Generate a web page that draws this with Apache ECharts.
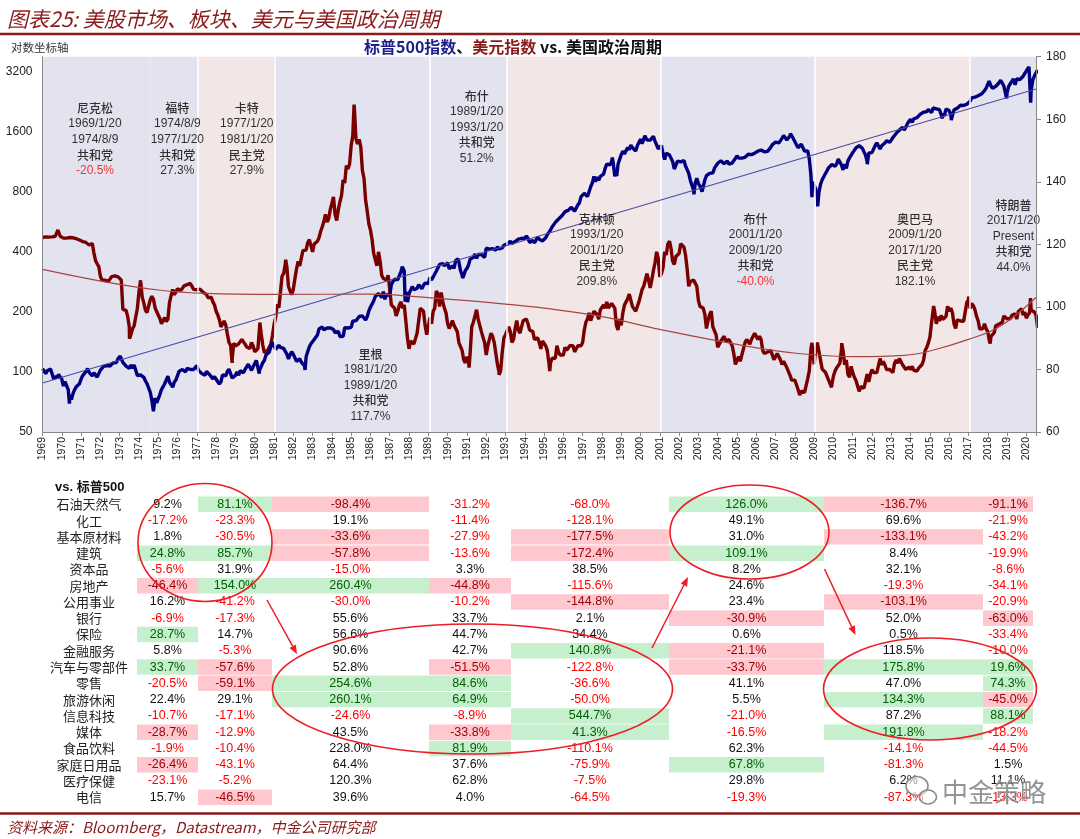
<!DOCTYPE html>
<html><head><meta charset="utf-8">
<script src="https://cdn.jsdelivr.net/npm/echarts@6/dist/echarts.min.js"></script>
<style>html,body{margin:0;padding:0;background:#fff}#c{width:1080px;height:839px}</style>
</head><body><div id="c"></div><script>
// ---------------- DATA ----------------
// S&P 500 month-end closes, Jan 1969 .. Jul 2020
const spxMonthly = [
103.0,98.1,101.5,103.7,103.5,97.7,91.8,95.5,93.1,97.2,94.5,92.1,
85.0,89.5,89.6,81.5,76.6,72.7,78.1,81.5,84.2,83.3,87.2,92.2,
95.9,96.8,100.3,103.9,99.6,99.7,95.6,99.0,98.3,94.2,94.0,102.1,
103.9,106.6,107.2,107.7,109.5,107.1,107.4,111.1,110.6,111.6,116.7,118.1,
116.0,111.7,111.5,107.0,105.0,104.3,108.2,104.3,108.4,108.3,96.0,97.6,
96.6,96.2,94.0,90.3,87.3,86.0,79.3,72.2,63.5,73.9,70.0,68.6,
77.0,81.6,83.4,87.3,91.2,95.2,88.8,86.9,83.9,89.0,91.2,90.2,
100.9,99.7,102.8,101.6,100.2,104.3,103.4,102.9,105.2,102.9,102.1,107.5,
102.0,99.8,98.4,98.4,96.1,100.5,98.9,96.8,96.5,92.3,94.8,95.1,
89.3,87.0,89.2,96.8,97.2,95.5,100.7,103.3,102.5,93.2,94.7,96.1,
99.9,96.3,101.6,101.8,99.1,102.9,103.8,109.3,109.3,101.8,106.2,107.9,
114.2,113.7,102.1,106.3,111.2,114.2,121.7,122.4,125.5,127.5,140.5,135.8,
129.6,131.3,136.0,132.8,132.6,131.2,130.9,122.8,116.2,121.9,126.4,122.6,
120.4,113.1,112.0,116.4,111.9,109.6,107.1,119.5,120.4,133.7,138.5,140.6,
145.3,148.1,153.0,164.4,162.4,168.1,162.6,164.4,166.1,163.6,166.4,164.9,
163.4,157.1,159.2,160.1,150.6,153.2,150.7,166.7,166.1,166.1,163.6,167.2,
179.6,181.2,180.7,179.8,189.6,191.9,190.9,188.6,182.1,189.8,202.2,211.3,
211.8,226.9,238.9,235.5,247.4,250.8,236.1,252.9,231.3,244.0,249.2,242.2,
274.1,284.2,291.7,288.4,290.1,304.0,318.7,329.8,321.8,251.8,230.3,247.1,
257.1,267.8,258.9,261.3,262.2,273.5,272.0,261.5,271.9,279.0,273.7,277.7,
297.5,288.9,294.9,309.6,320.5,318.0,346.1,351.5,349.2,340.4,346.0,353.4,
329.1,331.9,339.9,330.8,361.2,358.0,356.2,322.6,306.1,304.0,322.2,330.2,
343.9,367.1,375.2,375.4,389.8,371.2,387.8,395.4,387.9,392.5,375.2,417.1,
408.8,412.7,403.7,415.0,415.4,408.1,424.2,414.0,417.8,418.7,431.4,435.7,
438.8,443.4,451.7,440.2,450.2,450.5,448.1,463.6,458.9,467.8,461.8,466.5,
481.6,467.1,445.8,450.9,456.5,444.3,458.3,475.5,462.7,472.4,453.7,459.3,
470.4,487.4,500.7,514.7,533.4,544.8,562.1,561.9,584.4,581.5,605.4,615.9,
636.0,640.4,645.5,654.2,669.1,670.6,640.0,652.0,687.3,705.3,757.0,740.7,
786.2,790.8,757.1,801.3,848.3,885.1,954.3,899.5,947.3,914.6,955.4,970.4,
980.3,1049.3,1101.8,1111.8,1090.8,1133.8,1120.7,957.3,1017.0,1098.7,1163.6,1229.2,
1279.6,1238.3,1286.4,1335.2,1301.8,1372.7,1328.7,1320.4,1282.7,1362.9,1388.9,1469.3,
1394.5,1366.4,1498.6,1452.4,1420.6,1454.6,1430.8,1517.7,1436.5,1429.4,1315.0,1320.3,
1366.0,1239.9,1160.3,1249.5,1255.8,1224.4,1211.2,1133.6,1040.9,1059.8,1139.5,1148.1,
1130.2,1106.7,1147.4,1076.9,1067.1,989.8,911.6,916.1,815.3,885.8,936.3,879.8,
855.7,841.2,848.2,916.9,963.6,974.5,990.3,1008.0,996.0,1050.7,1058.2,1111.9,
1131.1,1144.9,1126.2,1107.3,1120.7,1140.8,1101.7,1104.2,1114.6,1130.2,1173.8,1211.9,
1181.3,1203.6,1180.6,1156.9,1191.5,1191.3,1234.2,1220.3,1228.8,1207.0,1249.5,1248.3,
1280.1,1280.7,1294.8,1310.6,1270.1,1270.2,1276.7,1303.8,1335.9,1377.9,1400.6,1418.3,
1438.2,1406.8,1420.9,1482.4,1530.6,1503.4,1455.3,1474.0,1526.8,1549.4,1481.1,1468.4,
1378.6,1330.6,1322.7,1385.6,1400.4,1280.0,1267.4,1282.8,1166.4,968.8,896.2,903.3,
825.9,735.1,797.9,872.8,919.1,919.3,987.5,1020.6,1057.1,1036.2,1095.6,1115.1,
1073.9,1104.5,1169.4,1186.7,1089.4,1030.7,1101.6,1049.3,1141.2,1183.3,1180.6,1257.6,
1286.1,1327.2,1325.8,1363.6,1345.2,1320.6,1292.3,1218.9,1131.4,1253.3,1247.0,1257.6,
1312.4,1365.7,1408.5,1397.9,1310.3,1362.2,1379.3,1406.6,1440.7,1412.2,1416.2,1426.2,
1498.1,1514.7,1569.2,1597.6,1630.7,1606.3,1685.7,1633.0,1681.6,1756.5,1805.8,1848.4,
1782.6,1859.5,1872.3,1884.0,1923.6,1960.2,1930.7,2003.4,1972.3,2018.1,2067.6,2058.9,
1995.0,2104.5,2067.9,2085.5,2107.4,2063.1,2103.8,1972.2,1920.0,2079.4,2080.4,2043.9,
1940.2,1932.2,2059.7,2065.3,2097.0,2098.9,2173.6,2171.0,2168.3,2126.2,2198.8,2238.8,
2278.9,2363.6,2362.7,2384.2,2411.8,2423.4,2470.3,2471.7,2519.4,2575.3,2647.6,2673.6,
2823.8,2713.8,2640.9,2648.1,2705.3,2718.4,2816.3,2901.5,2914.0,2711.7,2760.2,2506.9,
2704.1,2784.5,2834.4,2945.8,2752.1,2941.8,2980.4,2926.5,2976.7,3037.6,3141.0,3230.8,
3225.5,2954.2,2584.6,2912.4,3044.3,3100.3,3271.1
];
const spxExtremes = [
['1969/1/2',103.9],['1970/5/26',69.3],['1973/1/11',120.2],['1974/10/3',62.3],['1980/3/27',98.2],
['1980/11/28',140.5],['1982/8/12',102.4],['1987/8/25',336.8],['1987/10/19',224.8],['1987/12/4',223.9],
['1990/7/16',369.0],['1990/10/11',295.5],['1998/7/17',1186.8],['1998/10/8',959.4],['2000/3/24',1527.5],
['2002/10/9',776.8],['2003/3/11',800.7],['2007/10/9',1565.2],['2008/11/20',752.4],['2009/3/9',676.5],
['2011/10/3',1099.2],['2015/8/25',1867.6],['2016/2/11',1829.1],['2018/1/26',2872.9],['2018/12/24',2351.1],
['2020/2/19',3386.2],['2020/3/23',2237.4]
];
// US dollar index month-end, Jan 1969 .. Jul 2020
const dxyMonthly = [
122.3,122.4,122.2,122.3,122.5,122.4,122.5,122.6,123.0,124.0,122.6,122.4,
122.0,121.9,122.0,122.2,122.2,122.3,122.1,121.9,121.8,121.7,121.4,121.1,
120.9,120.6,120.6,120.4,119.8,120.1,120.3,117.2,114.8,113.8,112.9,109.8,
108.6,108.3,108.5,108.6,108.2,108.9,109.7,109.6,109.9,109.7,109.6,109.9,
108.6,99.2,98.7,98.9,96.9,93.6,91.2,93.0,94.0,94.6,99.5,104.8,
108.5,103.2,101.3,99.0,98.2,100.2,102.2,103.4,102.5,99.8,98.5,98.6,
96.3,94.6,94.2,96.6,95.3,96.1,101.4,103.6,105.6,103.9,104.8,105.8,
106.0,105.2,105.6,106.7,107.2,107.1,107.6,107.5,106.9,105.6,105.4,105.5,
105.6,105.7,105.1,104.6,104.4,104.0,102.9,103.5,103.1,101.6,100.6,98.6,
97.5,95.9,93.6,94.1,95.5,94.2,91.3,88.6,87.8,83.5,88.4,87.5,
87.3,88.2,88.1,89.6,89.7,88.1,87.2,87.6,86.7,88.6,87.6,85.6,
85.7,86.7,93.2,91.6,87.8,85.4,85.1,86.1,85.7,88.0,90.7,94.3,
96.6,100.8,99.7,104.6,109.8,110.7,113.6,112.8,106.6,105.1,103.9,105.6,
109.0,112.1,114.6,113.1,113.3,118.0,117.6,118.2,120.6,121.5,121.6,117.6,
120.1,120.6,121.0,122.1,124.1,125.6,127.2,129.6,127.1,128.2,131.1,133.1,
135.2,129.6,127.6,131.1,133.6,135.6,140.6,139.6,145.2,144.1,145.6,151.6,
154.6,163.6,153.6,152.1,153.6,151.1,143.6,141.1,134.1,130.6,126.6,124.6,
121.6,117.1,117.1,113.1,117.6,114.6,110.1,109.1,109.6,108.6,110.1,105.6,
100.6,101.1,99.6,97.1,98.6,100.6,101.6,99.6,100.6,95.6,90.1,86.6,
89.1,89.6,88.1,88.6,91.6,95.6,99.6,100.1,98.6,94.1,91.1,93.6,
96.6,94.6,98.6,99.6,105.1,104.1,100.1,104.6,101.6,99.6,98.1,94.6,
93.1,92.6,95.6,94.1,94.1,92.1,88.6,88.1,86.1,83.1,82.1,84.1,
82.6,85.1,93.6,95.1,95.1,99.1,96.1,95.6,92.1,92.1,88.6,84.6,
87.6,89.6,91.6,90.6,88.6,85.1,81.6,79.1,79.6,85.6,90.1,91.1,
91.6,93.6,92.1,88.6,89.6,93.1,95.6,92.6,91.6,93.6,95.6,95.6,
96.1,94.6,92.6,92.1,92.1,89.6,89.6,90.1,88.6,86.6,89.1,88.6,
87.6,86.1,82.1,82.1,83.6,83.6,83.6,87.6,85.6,84.6,84.1,84.6,
87.1,86.1,86.6,87.6,88.1,87.6,85.6,86.6,87.6,87.1,87.6,88.6,
92.6,95.1,96.1,98.1,95.6,95.6,98.6,99.1,97.6,96.1,99.1,99.6,
100.6,99.6,101.6,99.6,100.1,101.1,100.6,99.6,94.1,92.6,96.1,94.1,
98.1,100.6,101.6,102.6,104.1,103.6,100.1,100.6,98.6,99.1,101.6,101.6,
105.6,106.6,106.1,110.6,108.6,106.1,108.6,111.6,114.1,117.6,115.6,109.6,
110.6,112.6,117.6,116.6,120.1,119.6,118.6,114.6,113.6,116.1,116.6,117.1,
120.1,119.6,119.1,116.6,112.1,106.6,108.1,108.1,108.6,107.6,106.6,102.1,
100.1,99.6,99.6,97.6,93.1,95.6,97.6,98.6,93.6,93.6,91.1,87.1,
88.1,89.1,88.6,90.6,89.1,88.6,89.6,89.1,87.6,85.1,81.6,81.1,
84.1,82.6,84.6,84.1,88.6,89.6,89.1,88.1,89.6,90.6,91.6,91.1,
89.6,90.6,89.6,86.1,85.1,85.6,85.6,85.1,86.1,85.6,83.1,83.6,
85.1,84.1,83.1,81.6,82.6,82.1,80.6,81.1,78.1,76.6,76.1,76.6,
75.1,73.6,71.8,73.1,72.6,72.6,73.1,77.1,79.6,86.6,86.6,81.6,
86.6,88.6,85.6,85.6,80.1,80.6,79.1,78.6,76.6,76.1,75.1,77.9,
79.5,80.5,81.0,82.0,86.5,86.0,81.5,83.0,78.5,77.5,81.0,79.0,
77.5,76.5,76.0,73.0,74.5,74.5,74.0,74.5,78.5,76.0,78.5,80.0,
79.0,78.5,79.0,78.8,83.5,81.5,82.5,81.5,80.0,80.0,80.0,79.8,
79.0,82.0,83.0,82.0,83.5,83.0,81.5,81.5,80.0,80.2,80.7,80.0,
81.0,79.7,80.1,79.5,80.4,79.8,81.5,82.8,86.0,87.0,88.4,90.3,
94.8,95.3,98.4,94.6,96.9,95.5,97.3,96.0,96.4,96.9,100.2,98.6,
99.6,98.2,94.6,93.1,95.9,96.1,95.5,96.0,95.4,98.5,101.5,102.2,
99.5,101.1,100.4,99.1,97.0,95.6,92.9,92.7,93.1,94.6,93.0,92.1,
89.1,90.6,90.2,91.8,94.0,94.5,94.5,95.1,95.1,97.1,97.3,96.2,
95.6,96.2,97.3,97.5,97.8,96.1,98.5,98.9,99.4,97.4,98.3,96.4,
97.4,98.1,99.0,99.0,98.3,97.4,93.3
];
const dxyExtremes = [
['1969/1/2',122.2],['1969/10/20',124.6],['1973/7/6',89.8],['1978/10/31',82.1],['1980/4/7',95.0],
['1981/8/10',115.1],['1985/2/25',164.7],['1991/2/11',80.6],['1992/9/1',78.3],['1995/4/18',79.5],
['2001/7/5',121.0],['2002/1/31',120.2],['2008/4/22',71.3],['2008/11/21',88.5],['2009/3/4',89.1],
['2009/11/25',74.3],['2010/6/7',88.4],['2011/5/3',72.9],['2015/3/13',100.3],['2017/1/3',103.3],
['2018/2/16',88.3],['2020/3/19',102.8]
];
// trend lines
const spxTrend = [['1969/1/1',88],['2020/7/1',2620]];
const dxyTrend = [
['1969/1/1',112.0],['1972/3/1',108.1],['1975/1/1',105.4],['1977/7/1',104.3],['1981/1/1',104.0],
['1986/1/1',104.1],['1989/7/1',102.7],['1993/1/1',100.9],['1995/1/1',99.6],['1998/1/1',96.9],
['2001/1/1',92.8],['2005/1/1',88.0],['2008/3/1',85.1],['2011/3/1',84.1],['2013/9/1',84.5],
['2015/1/1',85.9],['2017/1/1',89.6],['2018/9/1',93.9],['2020/7/1',103.0]
];
// presidencies
const presNames  = ['尼克松','福特','卡特','里根','布什','克林顿','布什','奥巴马','特朗普'];
const presStart  = ['1969/1/20','1974/8/9','1977/1/20','1981/1/20','1989/1/20','1993/1/20','2001/1/20','2009/1/20','2017/1/20'];
const presEnd    = ['1974/8/9','1977/1/20','1981/1/20','1989/1/20','1993/1/20','2001/1/20','2009/1/20','2017/1/20','Present'];
const presParty  = ['共和党','共和党','民主党','共和党','共和党','民主党','共和党','民主党','共和党'];
const presReturn = [-20.5, 27.3, 27.9, 117.7, 51.2, 209.8, -40.0, 182.1, 44.0];
const bandBreaks = ['1977/1/20','1981/1/20','1989/1/20','1993/1/20','2001/1/20','2009/1/20','2017/1/20'];
// sector table (vs. S&P 500)
const sectors = ['石油天然气','化工','基本原材料','建筑','资本品','房地产','公用事业','银行','保险','金融服务','汽车与零部件','零售','旅游休闲','信息科技','媒体','食品饮料','家庭日用品','医疗保健','电信'];
const tableValues = [
[9.2,81.1,-98.4,-31.2,-68.0,126.0,-136.7,-91.1],
[-17.2,-23.3,19.1,-11.4,-128.1,49.1,69.6,-21.9],
[1.8,-30.5,-33.6,-27.9,-177.5,31.0,-133.1,-43.2],
[24.8,85.7,-57.8,-13.6,-172.4,109.1,8.4,-19.9],
[-5.6,31.9,-15.0,3.3,38.5,8.2,32.1,-8.6],
[-46.4,154.0,260.4,-44.8,-115.6,24.6,-19.3,-34.1],
[16.2,-41.2,-30.0,-10.2,-144.8,23.4,-103.1,-20.9],
[-6.9,-17.3,55.6,33.7,2.1,-30.9,52.0,-63.0],
[28.7,14.7,56.6,44.7,34.4,0.6,0.5,-33.4],
[5.8,-5.3,90.6,42.7,140.8,-21.1,118.5,-10.0],
[33.7,-57.6,52.8,-51.5,-122.8,-33.7,175.8,19.6],
[-20.5,-59.1,254.6,84.6,-36.6,41.1,47.0,74.3],
[22.4,29.1,260.1,64.9,-50.0,5.5,134.3,-45.0],
[-10.7,-17.1,-24.6,-8.9,544.7,-21.0,87.2,88.1],
[-28.7,-12.9,43.5,-33.8,41.3,-16.5,191.8,-18.2],
[-1.9,-10.4,228.0,81.9,-110.1,62.3,-14.1,-44.5],
[-26.4,-43.1,64.4,37.6,-75.9,67.8,-81.3,1.5],
[-23.1,-5.2,120.3,62.8,-7.5,29.8,6.2,11.1],
[15.7,-46.5,39.6,4.0,-64.5,-19.3,-87.3,-13.3]
];
// g = green highlight, p = pink highlight, . = none
const tableHighlight = [
'.gp..gpp','........','..p.p.p.','ggp.pg..','........','pggp....','....p.p.','.....p.p',
'g.......','....gp..','gp.p.pgg','.pgg...g','..gg..gp','....g..g','p..pg.g.','...g....',
'p....g..','........','.p......'
];

// ---------------- LAYOUT / STYLE ----------------
const X_MIN = 1969, X_MAX = 2020.5, LOG_BASE = 50, LOG_TOP = 6.25;
const COL_EDGES = [137,198,272,429,511,669,824,983,1033];
const ANNO_POS = [[1971.72,153.5],[1975.99,153.5],[1979.59,153.5],[1986.0,74.9],[1991.51,157.4],[1997.73,118.1],[2005.96,118.1],[2014.23,118.1],[2019.33,122.6]];
const REP_COLOR = '#E3E3EF', DEM_COLOR = '#F2E6E6';
const NAVY = '#000080', MAROON = '#7A0000', RED = '#EE1C25', TITLE_RED = '#8B1A1A';
const NUM_FONT = '"Liberation Sans", Arial, sans-serif';
const CJK_FONT = '"Noto Sans CJK SC", sans-serif';

function decYear(s) {
  const [y, m, d] = s.split('/').map(Number);
  const t0 = Date.UTC(y, 0, 1), t1 = Date.UTC(y + 1, 0, 1);
  return y + (Date.UTC(y, m - 1, d) - t0) / (t1 - t0);
}
function merged(monthly, extremes) {
  const pts = monthly.map((v, i) => [X_MIN + (i + 1) / 12, v]);
  extremes.forEach(([d, v]) => pts.push([decYear(d), v]));
  pts.sort((a, b) => a[0] - b[0]);
  return pts;
}
const toLog = v => Math.log2(v / LOG_BASE);
const spxData = merged(spxMonthly, spxExtremes).map(([x, v]) => [x, toLog(v)]);
const dxyData = merged(dxyMonthly, dxyExtremes);
const spxTrendData = spxTrend.map(([d, v]) => [decYear(d), toLog(v)]);
const dxyTrendData = dxyTrend.map(([d, v]) => [decYear(d), v]);

const bandAreas = presStart.map((s, i) => {
  const a = i === 0 ? X_MIN : decYear(s);
  const b = i + 1 < presStart.length ? decYear(presStart[i + 1]) : X_MAX;
  return [{ xAxis: a, itemStyle: { color: presParty[i] === '民主党' ? DEM_COLOR : REP_COLOR } }, { xAxis: b }];
});

const fmtPct = v => v.toFixed(1) + '%';
const tableCells = [];
tableValues.forEach((row, r) => row.forEach((v, c) => {
  const h = tableHighlight[r][c];
  tableCells.push([c, r, v, h === 'g' ? 1 : (h === 'p' ? 2 : 0)]);
}));

function arrow(x1, y1, x2, y2) {
  const ang = Math.atan2(y2 - y1, x2 - x1), L = 9, W = 3.6;
  const bx = x2 - L * Math.cos(ang), by = y2 - L * Math.sin(ang);
  const px = -Math.sin(ang) * W, py = Math.cos(ang) * W;
  return [
    { type: 'line', z: 100, shape: { x1, y1, x2: bx, y2: by }, style: { stroke: RED, lineWidth: 1.5 } },
    { type: 'polygon', z: 100, shape: { points: [[x2, y2], [bx + px, by + py], [bx - px, by - py]] }, style: { fill: RED } }
  ];
}
function ellipse(cx, cy, rx, ry) {
  return { type: 'ellipse', z: 100, shape: { cx, cy, rx, ry }, style: { fill: 'none', stroke: RED, lineWidth: 1.6 } };
}

const chart = echarts.init(document.getElementById('c'), null, { renderer: 'canvas' });
const option = {
  animation: false,
  backgroundColor: '#fff',
  textStyle: { fontFamily: NUM_FONT },
  title: {
    text: '{a|标普500指数}{b|、}{c|美元指数}{d| vs. 美国政治周期}',
    left: 364, top: 39, padding: 0,
    textStyle: {
      rich: {
        a: { color: '#1F1F8C', fontSize: 16, fontWeight: 'bold', fontFamily: CJK_FONT },
        b: { color: '#222', fontSize: 16, fontWeight: 'bold', fontFamily: CJK_FONT },
        c: { color: '#8B1A1A', fontSize: 16, fontWeight: 'bold', fontFamily: CJK_FONT },
        d: { color: '#111', fontSize: 16, fontWeight: 'bold', fontFamily: CJK_FONT }
      }
    }
  },
  grid: [
    { left: 42.5, right: 44, top: 56.7, bottom: 407 },
    { left: COL_EDGES[0], right: 1080 - COL_EDGES[COL_EDGES.length - 1], top: 496.2, bottom: 33.6 }
  ],
  xAxis: [
    {
      type: 'value', gridIndex: 0, min: X_MIN, max: X_MAX, interval: 1, z: 10,
      axisLine: { show: true, lineStyle: { color: '#888', width: 1 } },
      axisTick: { show: true, length: 4, lineStyle: { color: '#888' } },
      splitLine: { show: false },
      axisLabel: {
        rotate: 90, fontSize: 10.5, color: '#222', margin: 5, fontFamily: NUM_FONT,
        formatter: v => Math.abs(v - Math.round(v)) < 1e-6 ? String(Math.round(v)) : ''
      }
    },
    { type: 'value', gridIndex: 1, min: COL_EDGES[0], max: COL_EDGES[COL_EDGES.length - 1], show: false, splitLine: { show: false } }
  ],
  yAxis: [
    {
      type: 'value', gridIndex: 0, position: 'left', min: 0, max: LOG_TOP, interval: 1, z: 10,
      axisLine: { show: true, lineStyle: { color: '#888' } },
      axisTick: { show: false }, splitLine: { show: false },
      axisLabel: {
        fontSize: 12, color: '#222', margin: 10, fontFamily: NUM_FONT,
        formatter: v => Math.abs(v - Math.round(v)) < 1e-6 ? String(Math.round(LOG_BASE * Math.pow(2, Math.round(v)))) : ''
      }
    },
    {
      type: 'value', gridIndex: 0, position: 'right', min: 60, max: 180, interval: 20, z: 10,
      axisLine: { show: true, lineStyle: { color: '#888' } },
      axisTick: { show: true, length: 5, lineStyle: { color: '#888' } },
      splitLine: { show: false },
      axisLabel: { fontSize: 12, color: '#222', margin: 10, fontFamily: NUM_FONT }
    },
    {
      type: 'category', gridIndex: 1, data: sectors, inverse: true,
      axisLine: { show: false }, axisTick: { show: false }, splitLine: { show: false },
      axisLabel: { interval: 0, align: 'center', margin: COL_EDGES[0] - 89, fontSize: 13, color: '#222', fontFamily: CJK_FONT, padding: [0, 0, 3, 0] }
    }
  ],
  series: [
    {
      name: 'bands', type: 'line', xAxisIndex: 0, yAxisIndex: 1, z: 1, silent: true,
      data: [[X_MIN, 60]], showSymbol: false, lineStyle: { width: 0, opacity: 0 },
      markArea: { silent: true, data: bandAreas },
      markLine: {
        silent: true, symbol: ['none', 'none'], label: { show: false },
        lineStyle: { color: '#fff', width: 1.5, type: 'solid' },
        data: bandBreaks.map(d => ({ xAxis: decYear(d) }))
      }
    },
    {
      name: '美元指数', type: 'line', xAxisIndex: 0, yAxisIndex: 1, z: 3, data: dxyData,
      showSymbol: false, symbol: 'none', lineStyle: { color: MAROON, width: 3.4 }, silent: true
    },
    {
      name: '标普500指数', type: 'line', xAxisIndex: 0, yAxisIndex: 0, z: 4, data: spxData,
      showSymbol: false, symbol: 'none', lineStyle: { color: NAVY, width: 3.4 }, silent: true
    },
    {
      name: 'dxyTrend', type: 'line', xAxisIndex: 0, yAxisIndex: 1, z: 5, data: dxyTrendData, smooth: 0.4,
      showSymbol: false, symbol: 'none', lineStyle: { color: '#A84545', width: 1.2 }, silent: true
    },
    {
      name: 'spxTrend', type: 'line', xAxisIndex: 0, yAxisIndex: 0, z: 5, data: spxTrendData,
      showSymbol: false, symbol: 'none', lineStyle: { color: '#4A4AA6', width: 1.1 }, silent: true
    },
    {
      name: 'anno', type: 'scatter', xAxisIndex: 0, yAxisIndex: 1, z: 8, silent: true,
      symbolSize: 1, itemStyle: { color: 'rgba(0,0,0,0)' },
      data: ANNO_POS,
      label: {
        show: true, position: 'inside', align: 'center',
        formatter: p => {
          const i = p.dataIndex, r = presReturn[i];
          return '{n|' + presNames[i] + '}\n{d|' + presStart[i] + '}\n{d|' + presEnd[i] + '}\n{n|' + presParty[i] + '}\n{' + (r < 0 ? 'neg' : 'pos') + '|' + fmtPct(r) + '}';
        },
        rich: {
          n: { fontFamily: CJK_FONT, fontSize: 12, color: '#000', lineHeight: 15.5, fontWeight: 500 },
          d: { fontFamily: NUM_FONT, fontSize: 12, color: '#000', lineHeight: 15.5 },
          pos: { fontFamily: NUM_FONT, fontSize: 12, color: '#000', lineHeight: 15.5 },
          neg: { fontFamily: NUM_FONT, fontSize: 12, color: '#FF0000', lineHeight: 15.5 }
        }
      }
    },
    {
      name: 'table', type: 'custom', xAxisIndex: 1, yAxisIndex: 2, z: 3, silent: true,
      data: tableCells,
      renderItem: (params, api) => {
        const c = api.value(0), r = api.value(1), v = api.value(2), hl = api.value(3);
        const a = api.coord([COL_EDGES[c], r]);
        const b = api.coord([COL_EDGES[c + 1], r]);
        const h = api.size([0, 1])[1];
        const children = [];
        if (hl) {
          children.push({ type: 'rect', shape: { x: a[0], y: a[1] - h / 2 + 0.4, width: b[0] - a[0], height: h - 0.8 },
            style: { fill: hl === 1 ? '#C6EFCE' : '#FFC7CE' } });
        }
        const color = hl === 1 ? '#006100' : (hl === 2 ? '#9C0006' : (v < 0 ? '#FF0000' : '#111'));
        children.push({ type: 'text', style: { x: (a[0] + b[0]) / 2, y: a[1], text: fmtPct(v), align: 'center', verticalAlign: 'middle',
          fontSize: 12.5, fontFamily: NUM_FONT, fill: color } });
        return { type: 'group', children };
      }
    }
  ],
  graphic: [
    { type: 'text', z: 50, style: { x: 7, y: 19, text: '图表25: 美股市场、板块、美元与美国政治周期', verticalAlign: 'middle',
      font: 'italic 21px "Noto Sans CJK SC", sans-serif', fill: TITLE_RED } },
    { type: 'line', z: 50, shape: { x1: 0, y1: 34, x2: 1080, y2: 34 }, style: { stroke: TITLE_RED, lineWidth: 2.5 } },
    { type: 'text', z: 50, style: { x: 11, y: 47.3, text: '对数坐标轴', verticalAlign: 'middle', font: '11.5px "Noto Sans CJK SC", sans-serif', fill: '#333' } },
    { type: 'text', z: 50, style: { x: 55, y: 487.5, text: 'vs. 标普500', verticalAlign: 'middle', font: 'bold 13px "Liberation Sans", "Noto Sans CJK SC", sans-serif', fill: '#111' } },
    { type: 'line', z: 50, shape: { x1: 0, y1: 813.5, x2: 1080, y2: 813.5 }, style: { stroke: TITLE_RED, lineWidth: 2.5 } },
    { type: 'text', z: 50, style: { x: 7, y: 827, text: '资料来源：Bloomberg，Datastream，中金公司研究部', verticalAlign: 'middle',
      font: 'italic 15px "Noto Sans CJK SC", sans-serif', fill: TITLE_RED } },
    ellipse(205, 542.5, 67, 59),
    ellipse(472.5, 689, 200, 65),
    ellipse(749.5, 532, 79.5, 47),
    ellipse(930, 689, 106.5, 51),
    ...arrow(267, 600, 297, 654),
    ...arrow(652, 648, 688, 577),
    ...arrow(824.5, 569, 855.5, 635),
    // watermark
    { type: 'ellipse', z: 120, shape: { cx: 917, cy: 786, rx: 11, ry: 9.5 }, style: { fill: 'rgba(255,255,255,0.55)', stroke: '#8a8a8a', lineWidth: 1.6 } },
    { type: 'ellipse', z: 121, shape: { cx: 928, cy: 797, rx: 8.5, ry: 7 }, style: { fill: 'rgba(255,255,255,0.55)', stroke: '#8a8a8a', lineWidth: 1.6 } },
    { type: 'text', z: 120, style: { x: 942, y: 792, text: '中金策略', verticalAlign: 'middle', font: '26px "Noto Sans CJK SC", sans-serif',
      fill: 'rgba(120,120,120,0.8)', stroke: 'rgba(255,255,255,0.6)', lineWidth: 1 } }
  ]
};
chart.setOption(option);
</script></body></html>
